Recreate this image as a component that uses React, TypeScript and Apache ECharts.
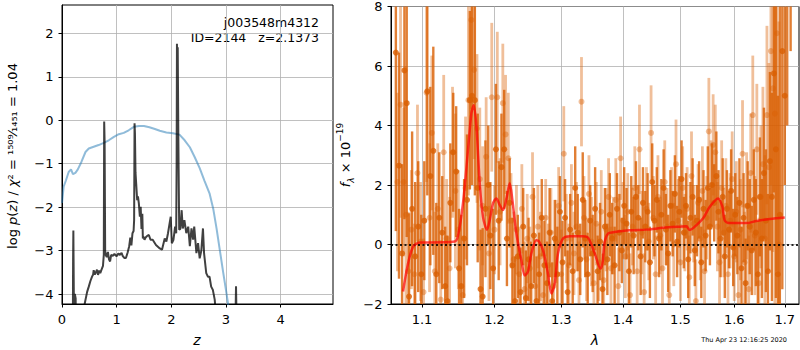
import React, { useEffect, useRef } from 'react';
import * as echarts from 'echarts';

const FONT = 'DejaVu Sans';

// ---- left panel: log p(z) (dark) and scaled chi2 (blue)
const pzZ = [0.195, 0.203, 0.208, 0.218, 0.235, 0.25, 0.26, 0.40, 0.416, 0.46, 0.49, 0.52, 0.55, 0.57, 0.58, 0.60, 0.62, 0.64, 0.66, 0.68, 0.70, 0.72, 0.75, 0.765, 0.772, 0.78, 0.79, 0.80, 0.82, 0.84, 0.86, 0.88, 0.90, 0.93, 0.96, 1.00, 1.03, 1.06, 1.09, 1.11, 1.14, 1.17, 1.20, 1.23, 1.25, 1.27, 1.29, 1.31, 1.32, 1.328, 1.335, 1.345, 1.358, 1.376, 1.39, 1.407, 1.425, 1.44, 1.455, 1.47, 1.48, 1.49, 1.51, 1.53, 1.56, 1.59, 1.62, 1.66, 1.72, 1.79, 1.83, 1.88, 1.91, 1.94, 1.97, 1.99, 2.01, 2.04, 2.07, 2.09, 2.098, 2.104, 2.112, 2.118, 2.13, 2.145, 2.165, 2.19, 2.21, 2.24, 2.275, 2.31, 2.34, 2.37, 2.40, 2.42, 2.46, 2.49, 2.52, 2.55, 2.58, 2.60, 2.64, 2.67, 2.70, 2.73, 2.76, 2.795, 2.82, 2.85, 3.17, 3.18, 3.185, 3.19, 3.20];
const pzLogP = [-6, -3.2, -2.54, -4.3, -4.0, -4.1, -6, -6, -4.22, -3.95, -3.83, -3.7, -3.6, -3.55, -3.45, -3.55, -3.5, -3.44, -3.56, -3.46, -3.52, -3.45, -3.35, -3.1, -0.03, -0.5, -3.0, -3.1, -3.15, -3.03, -3.2, -3.25, -3.1, -3.12, -3.08, -3.13, -3.07, -3.1, -3.05, -3.12, -3.17, -3.17, -3.05, -2.9, -2.7, -2.88, -2.6, -2.55, -2.3, -0.07, -0.3, -1.2, -1.46, -1.84, -1.75, -1.92, -2.22, -1.99, -2.5, -2.15, -2.72, -2.68, -2.75, -2.7, -2.66, -2.64, -2.75, -2.75, -2.87, -2.95, -2.98, -2.72, -2.79, -2.6, -2.37, -2.22, -2.83, -2.75, -2.45, -2.6, -1.0, 1.76, -0.5, 1.68, -0.5, -2.52, -2.5, -2.07, -2.49, -2.3, -2.6, -2.45, -2.9, -2.49, -2.75, -2.45, -3.06, -2.83, -3.18, -3.0, -2.49, -3.06, -3.52, -3.6, -3.6, -3.83, -3.9, -4.13, -4.5, -6, -6, -4.2, -3.82, -4.2, -6];

const chiZ = [0, 0.03, 0.073, 0.122, 0.165, 0.20, 0.245, 0.29, 0.355, 0.43, 0.49, 0.58, 0.67, 0.765, 0.856, 0.95, 1.04, 1.13, 1.22, 1.315, 1.41, 1.5, 1.60, 1.70, 1.79, 1.91, 2.03, 2.15, 2.245, 2.34, 2.43, 2.52, 2.61, 2.70, 2.77, 2.83, 2.89, 2.95, 3.01, 3.06];
const chiLogP = [-1.9, -1.53, -1.38, -1.19, -1.13, -1.24, -1.21, -1.13, -0.96, -0.73, -0.65, -0.61, -0.57, -0.52, -0.46, -0.38, -0.32, -0.29, -0.23, -0.15, -0.13, -0.13, -0.16, -0.2, -0.24, -0.28, -0.3, -0.33, -0.46, -0.62, -0.85, -1.1, -1.4, -1.68, -2.05, -2.5, -3.0, -3.5, -3.98, -4.4];

// ---- right panel: spectrum (two grism orients) and model
const darkLam = [1.066, 1.070, 1.074, 1.077, 1.080, 1.083, 1.087, 1.091, 1.095, 1.099, 1.103, 1.107, 1.111, 1.115, 1.119, 1.123, 1.127, 1.131, 1.134, 1.138, 1.142, 1.146, 1.150, 1.153, 1.157, 1.161, 1.165, 1.168, 1.172, 1.176, 1.180, 1.183, 1.187, 1.191, 1.194, 1.198, 1.202, 1.206, 1.210, 1.214, 1.218, 1.222, 1.226, 1.230, 1.234, 1.238, 1.242, 1.246, 1.250, 1.254, 1.258, 1.262, 1.266, 1.270, 1.274, 1.278, 1.282, 1.286, 1.290, 1.294, 1.298, 1.302, 1.306, 1.310, 1.314, 1.318, 1.322, 1.326, 1.330, 1.334, 1.338, 1.342, 1.346, 1.350, 1.354, 1.358, 1.362, 1.366, 1.370, 1.374, 1.378, 1.382, 1.386, 1.390, 1.394, 1.398, 1.402, 1.406, 1.410, 1.414, 1.418, 1.422, 1.426, 1.430, 1.434, 1.438, 1.442, 1.446, 1.450, 1.454, 1.458, 1.462, 1.466, 1.470, 1.474, 1.478, 1.482, 1.486, 1.490, 1.494, 1.498, 1.502, 1.506, 1.510, 1.514, 1.518, 1.522, 1.526, 1.530, 1.534, 1.538, 1.542, 1.546, 1.550, 1.554, 1.558, 1.562, 1.566, 1.570, 1.574, 1.578, 1.582, 1.586, 1.590, 1.594, 1.598, 1.602, 1.606, 1.610, 1.614, 1.618, 1.622, 1.626, 1.630, 1.634, 1.638, 1.642, 1.646, 1.650, 1.654, 1.658, 1.662, 1.666, 1.670, 1.674, 1.678, 1.682, 1.686, 1.690, 1.695, 1.700, 1.705, 1.712];
const darkFlux = [6.45, 2.65, -0.3, 5.85, 4.75, -1.75, 1.2, -0.4, 0.6, -1.0, 0.8, 5.15, 2.3, 3.15, -1.0, 0.9, 0.4, -1.4, -1.9, 1.4, 3.1, 2.45, -0.8, -1.4, 0.2, 1.5, 4.85, 5.0, 4.85, 1.9, -1.5, -1.75, 1.2, 2.0, 0.3, -0.8, 3.2, 0.8, 2.6, 3.2, 0.2, 1.4, -0.7, -1.9, -0.4, -1.6, 0.6, -1.8, -0.5, -1.4, 0.3, -1.9, -1.0, 0.9, -0.7, -1.3, 0.4, -1.9, 0.2, -1.0, 1.1, -0.6, 0.9, -1.6, 0.5, -0.9, 1.9, 0.4, -0.5, 1.5, 0.2, -1.0, 0.8, -0.3, 1.2, -0.9, 0.1, -1.5, 0.6, -0.5, 1.0, 0.2, -0.7, 1.2, 0.4, -0.2, 1.3, 0.7, -0.9, 1.1, 0.3, 1.6, 0.9, -0.4, 1.4, 0.6, 1.1, -0.6, 2.1, 0.8, 1.5, 0.2, 1.0, 1.9, 0.5, -0.3, 1.3, 0.7, 1.7, 0.1, 1.1, 2.2, 0.4, 1.3, -0.5, 0.9, 1.6, -0.2, 0.8, 1.5, -0.6, 1.2, 0.3, 1.9, 0.6, 2.0, 1.4, 2.3, 1.1, 0.2, 1.6, -0.4, 1.2, 0.5, 1.8, -0.1, 1.0, 0.3, 1.4, -0.8, 0.9, -1.3, 1.3, 0.6, -0.2, 1.5, 0.4, -1.0, 1.6, 0.2, 2.4, 0.8, -0.9, 2.8, 1.6, 5.75, 3.2, -1.0, 1.0, 6.5, 5.0, 9.0, 10.0];
const darkErr = [6.0, 3.8, 3.0, 5.0, 4.5, 2.8, 2.6, 2.5, 2.2, 2.0, 2.0, 3.5, 3.0, 3.5, 2.4, 2.2, 1.9, 2.0, 2.2, 2.0, 2.0, 2.2, 2.0, 2.4, 2.0, 2.2, 3.0, 3.0, 3.2, 2.5, 2.0, 2.3, 2.3, 2.0, 1.8, 2.0, 2.2, 2.0, 1.8, 2.0, 1.6, 1.5, 1.6, 1.5, 1.4, 1.5, 1.3, 1.6, 1.4, 1.5, 1.6, 1.5, 1.4, 1.3, 1.5, 1.4, 1.5, 1.3, 1.3, 1.6, 1.2, 1.4, 1.3, 1.4, 1.2, 1.3, 1.4, 1.3, 1.2, 1.6, 1.3, 1.4, 1.2, 1.3, 1.4, 1.2, 1.3, 1.2, 1.3, 1.2, 1.4, 1.2, 1.3, 1.2, 1.3, 1.1, 1.3, 1.2, 1.3, 1.2, 1.3, 1.2, 1.1, 1.3, 1.2, 1.2, 1.3, 1.2, 1.3, 1.2, 1.1, 1.3, 1.2, 1.3, 1.2, 1.3, 1.2, 1.1, 1.3, 1.2, 1.2, 1.3, 1.2, 1.1, 1.3, 1.2, 1.3, 1.2, 1.2, 1.3, 1.2, 1.3, 1.2, 1.4, 1.3, 1.4, 1.3, 1.5, 1.4, 1.3, 1.3, 1.4, 1.3, 1.3, 1.4, 1.3, 1.4, 1.3, 1.5, 1.4, 1.5, 1.5, 1.5, 1.6, 1.5, 1.7, 1.8, 1.8, 2.0, 2.0, 2.2, 2.4, 2.6, 3.0, 3.5, 4.0, 5.0, 6.0, 7.0, 8.0, 3.0, 5.0, 3.5];

const lightLam = [1.068, 1.072, 1.076, 1.079, 1.082, 1.086, 1.090, 1.094, 1.098, 1.102, 1.106, 1.110, 1.113, 1.117, 1.121, 1.125, 1.129, 1.133, 1.137, 1.141, 1.145, 1.149, 1.155, 1.159, 1.163, 1.167, 1.171, 1.175, 1.179, 1.183, 1.188, 1.192, 1.196, 1.200, 1.204, 1.208, 1.212, 1.216, 1.220, 1.224, 1.228, 1.232, 1.236, 1.240, 1.244, 1.248, 1.252, 1.256, 1.260, 1.264, 1.268, 1.272, 1.276, 1.280, 1.284, 1.288, 1.292, 1.296, 1.300, 1.304, 1.308, 1.312, 1.316, 1.320, 1.324, 1.328, 1.332, 1.336, 1.340, 1.344, 1.348, 1.352, 1.356, 1.360, 1.364, 1.368, 1.372, 1.376, 1.380, 1.384, 1.388, 1.392, 1.396, 1.400, 1.404, 1.408, 1.412, 1.416, 1.420, 1.424, 1.428, 1.432, 1.436, 1.440, 1.444, 1.448, 1.452, 1.456, 1.460, 1.464, 1.468, 1.472, 1.476, 1.480, 1.484, 1.488, 1.492, 1.496, 1.500, 1.504, 1.508, 1.512, 1.516, 1.520, 1.524, 1.528, 1.532, 1.536, 1.540, 1.544, 1.548, 1.552, 1.556, 1.560, 1.564, 1.568, 1.572, 1.576, 1.580, 1.584, 1.588, 1.592, 1.596, 1.600, 1.604, 1.608, 1.612, 1.616, 1.620, 1.624, 1.628, 1.632, 1.636, 1.640, 1.644, 1.648, 1.652, 1.656, 1.660, 1.664, 1.668, 1.672, 1.676, 1.680, 1.684, 1.688];
const lightFlux = [2.1, 4.7, 2.1, 1.0, -0.9, 0.5, -1.0, 2.4, 0.1, -1.6, 5.1, 0.9, 3.75, -0.9, 1.2, -1.85, 3.1, 0.2, -0.8, 3.1, 1.8, 0.5, -1.7, 1.9, 4.85, 7.55, 5.87, 3.9, 2.2, 1.3, 2.95, -0.3, 4.95, 0.5, 4.95, 1.1, 4.75, 3.7, 2.9, 0.8, -0.5, 0.5, -1.0, 1.2, -1.5, 0.2, -0.8, 1.6, -1.4, 0.6, -0.4, -1.7, 0.9, -0.7, 0.4, -1.4, 0.1, 1.3, -1.0, 3.05, 0.2, -0.7, 1.4, -0.3, 0.6, -1.2, 4.8, 0.9, -0.5, 1.7, 0.1, -1.3, 0.7, -0.6, 1.1, -1.2, 0.5, 1.6, -0.8, 0.3, 1.5, -1.4, 2.9, 0.8, -0.4, 1.1, -1.7, 0.6, 1.9, -0.9, 3.2, 0.4, -1.6, 1.2, 0.1, 3.75, 0.9, -1.0, 1.6, 0.3, -0.8, 2.1, 0.6, -1.7, 1.3, 0.0, 2.7, 0.8, -0.6, 1.9, 0.4, 1.2, -1.1, 2.3, 0.7, -1.9, 1.4, 0.2, 1.8, -0.9, 0.9, 3.8, 2.0, 3.35, 3.1, 0.6, -0.6, 1.9, 0.4, 1.3, -1.0, 0.8, 2.2, -0.4, 1.1, -1.7, 0.5, 3.05, -0.6, 1.3, -1.5, 2.4, 4.35, 0.3, 3.2, -1.3, 1.6, 2.7, 0.2, 4.35, 2.6, 6.5, 5.25, 4.4, 7.1, 0.0];
const lightErr = [3.0, 3.8, 2.5, 5.0, 2.0, 2.0, 1.7, 2.3, 2.0, 1.8, 3.0, 2.5, 2.6, 2.0, 2.2, 2.0, 2.6, 2.0, 2.4, 2.2, 2.6, 2.0, 2.0, 2.4, 3.2, 3.0, 3.0, 2.5, 2.4, 2.0, 2.0, 1.6, 2.5, 1.5, 2.2, 1.8, 2.0, 2.0, 2.2, 1.6, 1.6, 1.5, 1.6, 1.5, 1.6, 1.5, 1.4, 1.5, 1.6, 1.4, 1.5, 1.5, 1.3, 1.4, 1.5, 1.4, 1.4, 1.3, 1.5, 1.6, 1.5, 1.4, 1.3, 1.4, 1.5, 1.3, 1.5, 1.4, 1.4, 1.3, 1.5, 1.3, 1.4, 1.3, 1.4, 1.3, 1.4, 1.3, 1.4, 1.3, 1.4, 1.3, 1.4, 1.3, 1.4, 1.3, 1.4, 1.3, 1.4, 1.3, 1.5, 1.4, 1.3, 1.4, 1.3, 1.6, 1.4, 1.3, 1.4, 1.3, 1.4, 1.4, 1.3, 1.4, 1.3, 1.4, 1.5, 1.4, 1.3, 1.4, 1.3, 1.4, 1.4, 1.5, 1.3, 1.4, 1.3, 1.4, 1.5, 1.4, 1.4, 1.8, 1.5, 1.7, 1.6, 1.5, 1.5, 1.6, 1.5, 1.6, 1.5, 1.6, 1.6, 1.5, 1.7, 1.6, 1.7, 1.8, 1.7, 1.8, 1.8, 2.0, 2.0, 2.0, 2.2, 2.2, 2.4, 2.6, 2.8, 3.0, 3.5, 4.5, 5.5, 6.5, 8.0, 7.5];

const modelLam = [1.0752, 1.0817, 1.0882, 1.0970, 1.1102, 1.1441, 1.1486, 1.1555, 1.1624, 1.1672, 1.1704, 1.1742, 1.1789, 1.1835, 1.1892, 1.1931, 1.1978, 1.2027, 1.2076, 1.2123, 1.2173, 1.2221, 1.2260, 1.2319, 1.2393, 1.2443, 1.2492, 1.2543, 1.2617, 1.2658, 1.2719, 1.2795, 1.2848, 1.2899, 1.2950, 1.3028, 1.3134, 1.3268, 1.3345, 1.3425, 1.3534, 1.3626, 1.3660, 1.3697, 1.3751, 1.3834, 1.4114, 1.4400, 1.4690, 1.5000, 1.5107, 1.5164, 1.5230, 1.5413, 1.5537, 1.5692, 1.5774, 1.5818, 1.5914, 1.6235, 1.6433, 1.6697, 1.7000];
const modelFlux = [-1.58, -0.64, -0.08, 0.07, 0.07, 0.1, 0.3, 1.4, 3.18, 4.42, 4.68, 3.97, 2.06, 0.93, 0.5, 0.82, 1.38, 1.55, 1.32, 1.16, 1.55, 2.06, 1.49, 0.37, -0.53, -1.04, -0.9, -0.3, 0.14, 0.1, -0.19, -0.98, -1.65, -1.31, -0.3, 0.2, 0.28, 0.28, 0.28, 0.23, -0.3, -0.81, -0.63, 0.09, 0.37, 0.41, 0.48, 0.5, 0.56, 0.6, 0.61, 0.49, 0.55, 0.88, 1.27, 1.55, 1.27, 0.81, 0.72, 0.72, 0.79, 0.86, 0.91];

// ---- ticks
const leftXTicks = [0, 1, 2, 3, 4];
const leftYTicks = [-4, -3, -2, -1, 0, 1, 2];
const rightXTicks = [1.1, 1.2, 1.3, 1.4, 1.5, 1.6, 1.7];
const rightYTicks = [-2, 0, 2, 4, 6, 8];

const fmtNum = (v: number) => (v < 0 ? '\u2212' + Math.abs(v) : String(v));

const errRender = (color: string, width: number, opacity: number) => (params: any, api: any) => {
  const x = api.value(0);
  const y = api.value(1);
  const e = api.value(2);
  const top = api.coord([x, y + e]);
  const bot = api.coord([x, y - e]);
  const cs = params.coordSys;
  const clamp = (v: number) => Math.max(cs.y, Math.min(cs.y + cs.height, v));
  const y1 = clamp(top[1]);
  const y2 = clamp(bot[1]);
  if (Math.abs(y1 - y2) < 0.01) return null;
  return {
    type: 'line',
    shape: { x1: top[0], y1, x2: top[0], y2 },
    style: { stroke: color, lineWidth: width, opacity },
  };
};

const axisBase = (ticks: number[], fmt: (v: number) => string, margin: number) => ({
  axisLine: { show: true, onZero: false, lineStyle: { color: '#000', width: 1 } },
  axisTick: { show: true, inside: false, length: 3.5, lineStyle: { color: '#000', width: 1 }, customValues: ticks },
  axisLabel: { show: true, color: '#000', fontSize: 13, fontFamily: FONT, margin, customValues: ticks, formatter: fmt },
  splitLine: { show: true, lineStyle: { color: '#b0b0b0', width: 0.8 } },
});

export default function App() {
  const ref = useRef<HTMLDivElement>(null);
  useEffect(() => {
    const chart = echarts.init(ref.current!, null, { renderer: 'svg' });
    const ORANGE = 'rgb(217,95,2)';
    const rightXTickLn = rightXTicks.map((t) => Math.log(t));
    const option: any = {
      animation: false,
      backgroundColor: '#fff',
      textStyle: { fontFamily: FONT },
      grid: [
        { left: 62, top: 5, width: 271, height: 299, show: true, borderColor: '#000', borderWidth: 1, backgroundColor: 'transparent' },
        { left: 391, top: 6, width: 408, height: 298, show: true, borderColor: '#000', borderWidth: 1, backgroundColor: 'transparent' },
      ],
      xAxis: [
        { type: 'value', gridIndex: 0, min: 0, max: 4.96, ...axisBase(leftXTicks, (v: number) => fmtNum(v), 9) },
        {
          type: 'value', gridIndex: 1, min: Math.log(1.0598), max: Math.log(1.7293),
          ...axisBase(rightXTickLn, (v: number) => Math.exp(v).toFixed(1), 9),
        },
      ],
      yAxis: [
        { type: 'value', gridIndex: 0, min: -4.23, max: 2.655, ...axisBase(leftYTicks, (v: number) => fmtNum(v), 8.5) },
        { type: 'value', gridIndex: 1, min: -2, max: 8, ...axisBase(rightYTicks, (v: number) => fmtNum(v), 8.5) },
      ],
      series: [
        {
          type: 'line', xAxisIndex: 0, yAxisIndex: 0, showSymbol: false, silent: true,
          data: chiZ.map((z, i) => [z, chiLogP[i]]),
          lineStyle: { color: 'rgb(31,119,180)', width: 2, opacity: 0.5 },
          z: 3,
        },
        {
          type: 'line', xAxisIndex: 0, yAxisIndex: 0, showSymbol: false, silent: true,
          data: pzZ.map((z, i) => [z, pzLogP[i]]),
          lineStyle: { color: '#000', width: 2, opacity: 0.75 },
          z: 4,
        },
        {
          type: 'custom', xAxisIndex: 1, yAxisIndex: 1, silent: true,
          data: lightLam.map((l, i) => [Math.log(l), lightFlux[i], lightErr[i]]),
          encode: { x: 0, y: 1 },
          renderItem: errRender(ORANGE, 2.8, 0.4),
          z: 3,
        },
        {
          type: 'scatter', xAxisIndex: 1, yAxisIndex: 1, silent: true,
          data: lightLam.map((l, i) => [Math.log(l), lightFlux[i]]),
          symbolSize: 6,
          itemStyle: { color: ORANGE, opacity: 0.4 },
          z: 3,
        },
        {
          type: 'custom', xAxisIndex: 1, yAxisIndex: 1, silent: true,
          data: darkLam.map((l, i) => [Math.log(l), darkFlux[i], darkErr[i]]),
          encode: { x: 0, y: 1 },
          renderItem: errRender(ORANGE, 2.4, 0.8),
          z: 4,
        },
        {
          type: 'scatter', xAxisIndex: 1, yAxisIndex: 1, silent: true,
          data: darkLam.map((l, i) => [Math.log(l), darkFlux[i]]),
          symbolSize: 6,
          itemStyle: { color: ORANGE, opacity: 0.8 },
          z: 4,
        },
        {
          type: 'line', xAxisIndex: 1, yAxisIndex: 1, showSymbol: false, silent: true, smooth: 0.3,
          data: modelLam.map((l, i) => [Math.log(l), modelFlux[i]]),
          lineStyle: { color: 'rgb(255,0,0)', width: 2.5, opacity: 0.7 },
          z: 5,
          markLine: {
            silent: true, symbol: ['none', 'none'], label: { show: false },
            lineStyle: { color: '#000', type: [2, 2.5], width: 2, opacity: 0.85 },
            data: [{ yAxis: 0 }],
          },
        },
      ],
      graphic: [
        { type: 'text', x: 319, y: 22, style: { text: 'j003548m4312', fontSize: 12.5, fontFamily: FONT, fill: '#000', align: 'right', verticalAlign: 'middle' } },
        { type: 'text', x: 319, y: 37, style: { text: 'ID=2144\u00a0\u00a0\u00a0z=2.1373', fontSize: 12.5, fontFamily: FONT, fill: '#000', align: 'right', verticalAlign: 'middle' } },
        { type: 'text', x: 197, y: 340, style: { text: 'z', fontSize: 14, fontStyle: 'italic', fontFamily: FONT, fill: '#000', align: 'center', verticalAlign: 'middle' } },
        { type: 'text', x: 595, y: 340, style: { text: 'λ', fontSize: 14, fontStyle: 'italic', fontFamily: FONT, fill: '#000', align: 'center', verticalAlign: 'middle' } },
        {
          type: 'text', x: 12, y: 156, rotation: Math.PI / 2,
          style: {
            text: '{n|log }{i|p}{n|(}{i|z}{n|) / }{i|χ}{n|² = }{f|¹⁵⁰⁹⁄₁₄₅₁}{n| = 1.04}',
            align: 'center', verticalAlign: 'middle', fill: '#000',
            rich: {
              n: { fontSize: 13, fontFamily: FONT, fill: '#000' },
              i: { fontSize: 13, fontFamily: FONT, fontStyle: 'italic', fill: '#000' },
              f: { fontSize: 13, fontFamily: FONT, fill: '#000' },
            },
          },
        },
        {
          type: 'text', x: 345, y: 155, rotation: Math.PI / 2,
          style: {
            text: '{i|f}{s|λ}{n| × 10}{p|−19}',
            align: 'center', verticalAlign: 'middle', fill: '#000',
            rich: {
              i: { fontSize: 13, fontFamily: FONT, fontStyle: 'italic', fill: '#000', lineHeight: 20, verticalAlign: 'middle' },
              s: { fontSize: 9, fontFamily: FONT, fontStyle: 'italic', fill: '#000', lineHeight: 20, verticalAlign: 'bottom' },
              n: { fontSize: 13, fontFamily: FONT, fill: '#000', lineHeight: 20, verticalAlign: 'middle' },
              p: { fontSize: 9, fontFamily: FONT, fill: '#000', lineHeight: 20, verticalAlign: 'top' },
            },
          },
        },
        { type: 'text', x: 787, y: 340, style: { text: 'Thu Apr 23 12:16:25 2020', fontSize: 6.5, fontFamily: FONT, fill: '#000', align: 'right', verticalAlign: 'middle' } },
      ],
    };
    chart.setOption(option);
    return () => chart.dispose();
  }, []);
  return <div ref={ref} style={{ position: 'absolute', left: 0, top: 0, width: 800, height: 350 }} />;
}
